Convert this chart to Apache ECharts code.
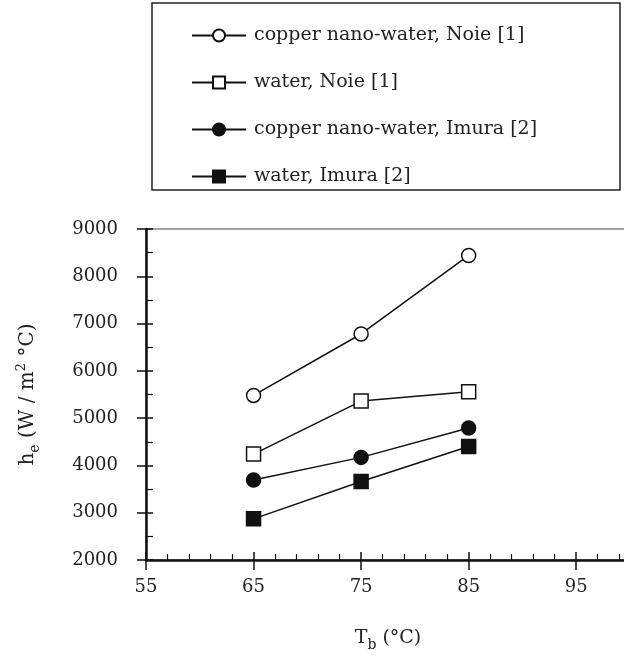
<!DOCTYPE html>
<html>
<head>
<meta charset="utf-8">
<script src="https://cdn.jsdelivr.net/npm/echarts@6/dist/echarts.min.js"></script>
<style>
html, body { margin: 0; padding: 0; overflow: hidden; background: #fff; }
#main { width: 640px; height: 657px; }
</style>
</head>
<body>
<div id="main"></div>
<script>
// bulk temperature (deg C)
var temps = [65, 75, 85];
var cuNoie = [5480, 6780, 8440];
var waterNoie = [4240, 5360, 5560];
var cuImura = [3690, 4170, 4790];
var waterImura = [2870, 3660, 4400];
var names = ['copper nano-water, Noie [1]', 'water, Noie [1]', 'copper nano-water, Imura [2]', 'water, Imura [2]'];

var font = 'DejaVu Serif';
var myChart = echarts.init(document.getElementById('main'));

function pairs(ys) {
    return temps.map(function (t, i) { return [t, ys[i]]; });
}

function mkSeries(name, ys, sym, filled) {
    return {
        name: name,
        type: 'line',
        data: pairs(ys),
        symbol: sym,
        symbolSize: 14,
        xAxisIndex: 0,
        yAxisIndex: 0,
        lineStyle: { color: '#111', width: 1.5 },
        itemStyle: { color: filled ? '#111' : '#fff', borderColor: '#111', borderWidth: 1.5 },
        emphasis: { disabled: true },
        z: 5
    };
}

var labelStyle = { fontFamily: font, fontSize: 18, color: '#222' };
var plain = function (v) { return String(v); };

option = {
    animation: false,
    grid: {
        left: 146, right: 10, top: 229, bottom: 97,
        show: true, borderColor: '#444', borderWidth: 1
    },
    graphic: [{
        type: 'rect',
        shape: { x: 152, y: 3, width: 468, height: 187 },
        style: { fill: 'none', stroke: '#222', lineWidth: 1.5 }
    }],
    legend: {
        orient: 'vertical',
        left: 186, top: 21,
        itemWidth: 54, itemHeight: 15, itemGap: 28,
        textStyle: { fontFamily: font, fontSize: 19, color: '#222', padding: [0, 0, 0, 3] },
        data: names
    },
    xAxis: [{
        type: 'value', min: 55, max: 100, interval: 10,
        name: '{a|T}{sub|b}{a| (°C)}',
        nameLocation: 'middle', nameGap: 64,
        nameTextStyle: {
            rich: {
                a: { fontFamily: font, fontSize: 19, color: '#222' },
                sub: { fontFamily: font, fontSize: 14, color: '#222', padding: [14, 0, 0, 0] }
            }
        },
        axisLine: { lineStyle: { color: '#111', width: 2.5 } },
        axisTick: { inside: true, length: 8, lineStyle: { color: '#111', width: 1.5 } },
        minorTick: { show: true, splitNumber: 5, length: 6, lineStyle: { color: '#111', width: 1.2 } },
        axisLabel: Object.assign({ margin: 18, showMaxLabel: false, formatter: plain }, labelStyle),
        splitLine: { show: false }
    }, {
        type: 'value', min: 55, max: 100, interval: 10, position: 'bottom',
        axisLine: { show: false },
        axisTick: { inside: false, length: 10, lineStyle: { color: '#111', width: 1.5 } },
        axisLabel: { show: false },
        splitLine: { show: false }
    }],
    yAxis: [{
        type: 'value', min: 2000, max: 9000, interval: 1000,
        name: '{a|h}{sub|e}{a| (W / m}{sup|2}{a| °C)}',
        nameLocation: 'middle', nameGap: 104, nameRotate: 90,
        nameTextStyle: {
            rich: {
                a: { fontFamily: font, fontSize: 20, color: '#222' },
                sub: { fontFamily: font, fontSize: 14, color: '#222', padding: [14, 0, 0, 0] },
                sup: { fontFamily: font, fontSize: 13, color: '#222', padding: [0, 0, 12, 0] }
            }
        },
        axisLine: { lineStyle: { color: '#111', width: 2.5 } },
        axisTick: { inside: true, length: 7, lineStyle: { color: '#111', width: 1.5 } },
        minorTick: { show: true, splitNumber: 2, length: 7, lineStyle: { color: '#111', width: 1.2 } },
        axisLabel: Object.assign({ margin: 28, formatter: plain }, labelStyle),
        splitLine: { show: false }
    }, {
        type: 'value', min: 2000, max: 9000, interval: 1000, position: 'left',
        axisLine: { show: false },
        axisTick: { inside: false, length: 9, lineStyle: { color: '#111', width: 1.5 } },
        axisLabel: { show: false },
        splitLine: { show: false }
    }],
    series: [
        mkSeries(names[0], cuNoie, 'circle', false),
        mkSeries(names[1], waterNoie, 'rect', false),
        mkSeries(names[2], cuImura, 'circle', true),
        mkSeries(names[3], waterImura, 'rect', true)
    ]
};

myChart.setOption(option);
</script>
</body>
</html>
